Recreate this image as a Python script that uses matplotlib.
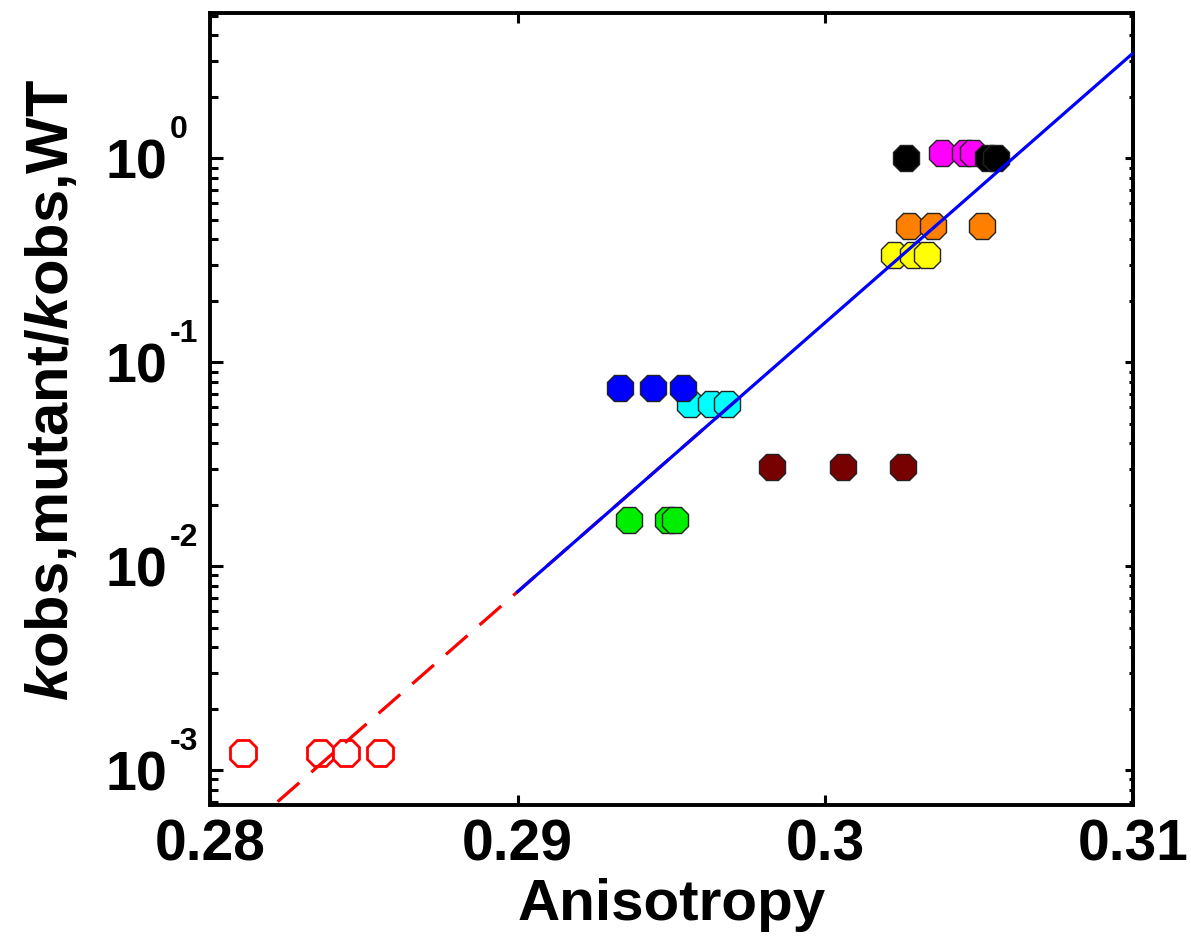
import numpy as np
import matplotlib
matplotlib.use("Agg")
import matplotlib.pyplot as plt
import matplotlib.transforms as mtransforms
from matplotlib.ticker import FixedLocator, LogLocator, NullFormatter, FuncFormatter

plt.rcParams['font.family'] = ['Liberation Sans', 'DejaVu Sans']
plt.rcParams['font.weight'] = 'bold'
plt.rcParams['mathtext.fontset'] = 'custom'
plt.rcParams['mathtext.rm'] = 'Liberation Sans:bold'
plt.rcParams['mathtext.it'] = 'Liberation Sans:bold:italic'
plt.rcParams['mathtext.bf'] = 'Liberation Sans:bold'

# ---- data ----
red_x = [0.28107, 0.28357, 0.28442, 0.28552]
red_y = [1.21e-3, 1.21e-3, 1.21e-3, 1.21e-3]

green_x = [0.29362, 0.29490, 0.29510]
green_y = [0.0168, 0.0168, 0.0168]

cyan_x = [0.29560, 0.29628, 0.29680]
cyan_y = [0.0622, 0.0622, 0.0622]

blue_x = [0.29332, 0.29440, 0.29537]
blue_y = [0.0746, 0.0746, 0.0746]

maroon_x = [0.29826, 0.30057, 0.30252]
maroon_y = [0.0306, 0.0306, 0.0306]

magenta_x = [0.30379, 0.30454, 0.30480]
magenta_y = [1.06, 1.06, 1.06]

black_x = [0.30262, 0.30528, 0.30555]
black_y = [1.0, 1.0, 1.0]

orange_x = [0.30272, 0.30350, 0.30509]
orange_y = [0.464, 0.464, 0.464]

yellow_x = [0.30223, 0.30285, 0.30330]
yellow_y = [0.335, 0.335, 0.335]

# exponential fit: log10(y) = fit_a + fit_b * (x - fit_x0)
fit_x0 = 0.29
fit_a = -2.125
fit_b = 132.0
red_fit_range = (0.2822, 0.2975)
blue_fit_range = (0.29, 0.31)

x_ticks = [0.28, 0.29, 0.30, 0.31]
x_tick_labels = ['0.28', '0.29', '0.3', '0.31']
y_ticks = [1e-3, 1e-2, 1e-1, 1e0]
y_exponents = ['-3', '-2', '-1', '0']

# ---- figure ----
fig = plt.figure(figsize=(11.91, 9.36), dpi=100)
ax = fig.add_axes([0.1763, 0.1400, 0.9513 - 0.1763, 0.9861 - 0.1400])
ax.set_yscale('log')
ax.set_xlim(0.28, 0.31)
ax.set_ylim(6.75e-4, 5.15)

ms = 21
ew = 1.0
ax.plot(red_x, red_y, linestyle='none', marker='8', ms=ms, mfc='white',
        mec='#ff0000', mew=2.0, zorder=3)
filled = [
    (green_x, green_y, '#00ee00'),
    (cyan_x, cyan_y, '#00ffff'),
    (blue_x, blue_y, '#0000ff'),
    (maroon_x, maroon_y, '#770000'),
    (magenta_x, magenta_y, '#ff00ff'),
    (black_x, black_y, '#000000'),
    (orange_x, orange_y, '#ff7f00'),
    (yellow_x, yellow_y, '#ffff00'),
]
for xs, ys, c in filled:
    for xi, yi in zip(xs, ys):
        ax.plot([xi], [yi], linestyle='none', marker='8', ms=ms, mfc=c,
                mec='#222222', mew=ew, zorder=3)

xr = np.linspace(*red_fit_range, 200)
ax.plot(xr, 10 ** (fit_a + fit_b * (xr - fit_x0)), color='#ff0000', lw=2.3,
        dashes=(9, 5), zorder=4)
xb = np.linspace(*blue_fit_range, 200)
ax.plot(xb, 10 ** (fit_a + fit_b * (xb - fit_x0)), color='#0000ff', lw=2.3,
        zorder=5)

# ---- axes styling ----
for s in ax.spines.values():
    s.set_linewidth(2.8)

ax.xaxis.set_major_locator(FixedLocator(x_ticks))
ax.set_xticklabels(x_tick_labels)
ax.yaxis.set_major_locator(FixedLocator(y_ticks))
ax.yaxis.set_major_formatter(FuncFormatter(lambda v, p: "10"))
ax.yaxis.set_minor_locator(LogLocator(base=10, subs=np.arange(2, 10), numticks=20))
ax.yaxis.set_minor_formatter(NullFormatter())

ax.tick_params(axis='both', which='both', direction='in', top=True, right=False)
ax.tick_params(axis='x', which='major', length=7.5, width=2.2, labelsize=41, pad=10)
ax.tick_params(axis='y', which='major', length=9.5, width=2.2, labelsize=40, pad=31)
ax.tick_params(axis='y', which='minor', length=5.8, width=2.2)

# right side: shorter ticks, no labels
sec = ax.secondary_yaxis('right')
sec.yaxis.set_major_locator(FixedLocator(y_ticks))
sec.yaxis.set_minor_locator(LogLocator(base=10, subs=np.arange(2, 10), numticks=20))
sec.yaxis.set_major_formatter(NullFormatter())
sec.yaxis.set_minor_formatter(NullFormatter())
sec.tick_params(axis='y', which='major', direction='in', length=5.8, width=2.2)
sec.tick_params(axis='y', which='minor', direction='in', length=3.0, width=2.2)
sec.spines['right'].set_linewidth(2.8)

# superscript exponents beside the "10" tick labels
sup_tr = mtransforms.offset_copy(ax.get_yaxis_transform(), fig=fig,
                                 x=-40, y=20, units='dots')
for yv, ex in zip(y_ticks, y_exponents):
    ax.text(0, yv, ex, transform=sup_tr, ha='left', va='baseline',
            fontsize=23, fontweight='bold', clip_on=False)

ax.set_xlabel('Anisotropy', fontsize=42, fontweight='bold', labelpad=4)
ax.set_ylabel(r'$\mathit{k}$obs,mutant/$\mathit{k}$obs,WT', fontsize=43,
              fontweight='bold')
ax.yaxis.set_label_coords(-0.141, 0.524)

fig.savefig('out.png', dpi=100)
